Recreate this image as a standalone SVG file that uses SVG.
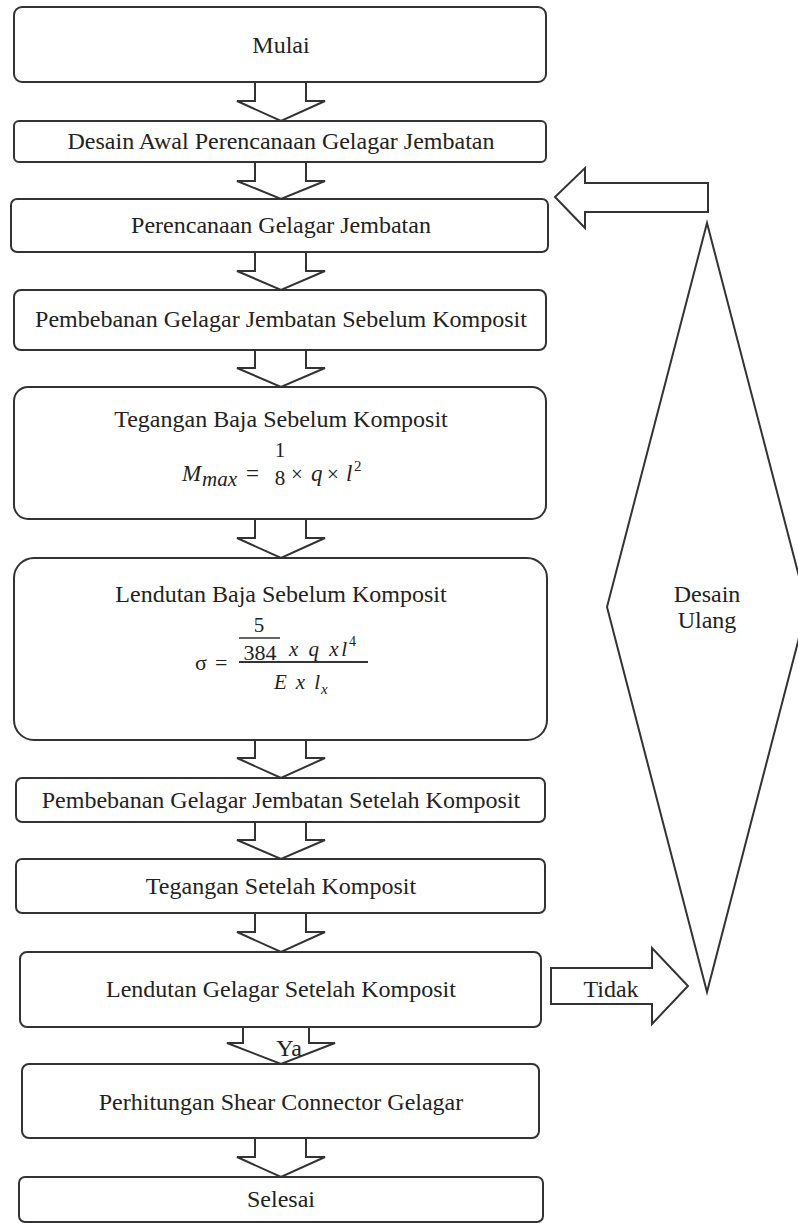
<svg xmlns="http://www.w3.org/2000/svg" width="798" height="1223" viewBox="0 0 798 1223">
<style>
.box{fill:#fff;stroke:#333;stroke-width:2}
.arr{fill:#fff;stroke:#333;stroke-width:2;stroke-linejoin:miter}
.t{font-family:"Liberation Serif","Times New Roman",serif;font-size:24px;fill:#222;text-anchor:middle}
.m{font-family:"Liberation Serif","Times New Roman",serif;fill:#222}
.i{font-style:italic}
</style>
<rect width="798" height="1223" fill="#fff"/>
<g id="connectors">
<path class="arr" d="M255,82 V101 H237 L281,121 L325,101 H306 V82"/>
<path class="arr" d="M255,162 V181 H237 L281,199 L325,181 H306 V162"/>
<path class="arr" d="M255,252 V271 H237 L281,290 L325,271 H306 V252"/>
<path class="arr" d="M255,350 V368 H237 L281,387 L325,368 H306 V350"/>
<path class="arr" d="M255,519 V538 H237 L281,558 L325,538 H306 V519"/>
<path class="arr" d="M255,740 V758 H237 L281,778 L325,758 H306 V740"/>
<path class="arr" d="M255,822 V840 H237 L281,859 L325,840 H306 V822"/>
<path class="arr" d="M255,913 V932 H237 L281,952 L325,932 H306 V913"/>
<path class="arr" d="M243,1027 V1043 H227 L281,1064 L335,1043 H309 V1027"/>
<path class="arr" d="M255,1138 V1157 H237 L281,1177 L325,1157 H306 V1138"/>
<path class="arr" d="M551,968 H652 V948 L688,986 L652,1024 V1004 H551 Z"/>
<path class="arr" d="M708,183 H585 V168 L555,197 L585,228 V212 H708 Z"/>
<text class="t" x="611" y="997">Tidak</text>
<text class="t" x="289" y="1056">Ya</text>
</g>
<g id="desain-ulang">
<polygon points="707,223 607,607 707,992 807,607" fill="#fff" stroke="#333" stroke-width="2"/>
<text class="t" x="707" y="602">Desain</text>
<text class="t" x="707" y="628">Ulang</text>
</g>
<g id="mulai">
<rect class="box" x="14" y="7" width="532" height="75" rx="8"/>
<text class="t" x="281" y="53">Mulai</text>
</g>
<g id="desain-awal">
<rect class="box" x="14" y="121" width="532" height="41" rx="5"/>
<text class="t" x="281" y="149">Desain Awal Perencanaan Gelagar Jembatan</text>
</g>
<g id="perencanaan">
<rect class="box" x="11" y="199" width="537" height="53" rx="6"/>
<text class="t" x="281" y="233">Perencanaan Gelagar Jembatan</text>
</g>
<g id="pembebanan-sebelum">
<rect class="box" x="14" y="290" width="532" height="60" rx="7"/>
<text class="t" x="281" y="327">Pembebanan Gelagar Jembatan Sebelum Komposit</text>
</g>
<g id="tegangan-baja">
<rect class="box" x="14" y="387" width="532" height="132" rx="14"/>
<text class="t" x="281" y="427">Tegangan Baja Sebelum Komposit</text>
<text class="m i" x="182" y="481" font-size="23">M</text>
<text class="m i" x="202" y="486" font-size="21">max</text>
<text class="m" x="246" y="481" font-size="23">=</text>
<text class="m" x="280" y="457" font-size="21" text-anchor="middle">1</text>
<text class="m" x="280" y="485" font-size="21" text-anchor="middle">8</text>
<text class="m" x="291" y="481" font-size="21">×</text>
<text class="m i" x="311" y="481" font-size="23">q</text>
<text class="m" x="327" y="481" font-size="21">×</text>
<text class="m i" x="346" y="481" font-size="23">l</text>
<text class="m" x="354" y="471" font-size="15">2</text>
</g>
<g id="lendutan-baja">
<rect class="box" x="14" y="558" width="533" height="182" rx="20"/>
<text class="t" x="281" y="602">Lendutan Baja Sebelum Komposit</text>
<text class="m" x="259" y="632" font-size="21" text-anchor="middle">5</text>
<line x1="239" y1="638" x2="280" y2="638" stroke="#333" stroke-width="1.5"/>
<text class="m" x="260" y="660" font-size="22" text-anchor="middle">384</text>
<text class="m i" x="289" y="656" font-size="21" textLength="58" lengthAdjust="spacing">x q xl</text>
<text class="m" x="349" y="646" font-size="14">4</text>
<line x1="239" y1="662" x2="368" y2="662" stroke="#333" stroke-width="2"/>
<text class="m" x="195" y="670" font-size="22">σ</text>
<text class="m" x="215" y="670" font-size="22">=</text>
<text class="m i" x="274" y="689" font-size="21" textLength="46" lengthAdjust="spacing">E x l</text>
<text class="m i" x="321" y="694" font-size="15">x</text>
</g>
<g id="pembebanan-setelah">
<rect class="box" x="16" y="778" width="529" height="44" rx="6"/>
<text class="t" x="281" y="808">Pembebanan Gelagar Jembatan Setelah Komposit</text>
</g>
<g id="tegangan-setelah">
<rect class="box" x="16" y="859" width="529" height="54" rx="6"/>
<text class="t" x="281" y="894">Tegangan Setelah Komposit</text>
</g>
<g id="lendutan-gelagar">
<rect class="box" x="20" y="952" width="521" height="75" rx="7"/>
<text class="t" x="281" y="997">Lendutan Gelagar Setelah Komposit</text>
</g>
<g id="shear-connector">
<rect class="box" x="22" y="1064" width="517" height="74" rx="7"/>
<text class="t" x="281" y="1110">Perhitungan Shear Connector Gelagar</text>
</g>
<g id="selesai">
<rect class="box" x="19" y="1177" width="524" height="45" rx="6"/>
<text class="t" x="281" y="1207">Selesai</text>
</g>
</svg>
